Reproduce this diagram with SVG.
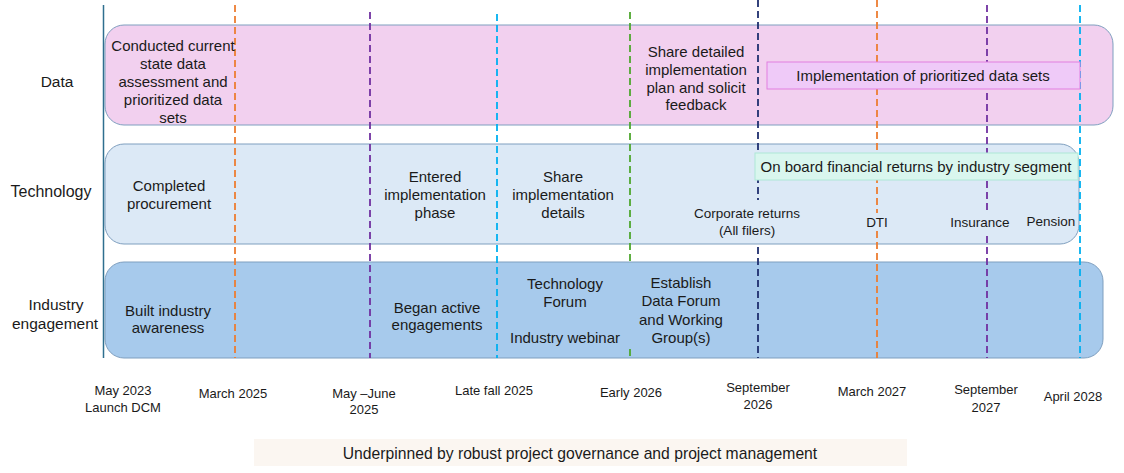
<svg xmlns="http://www.w3.org/2000/svg" width="1124" height="473" viewBox="0 0 1124 473">
<style>
text{font-family:"Liberation Sans",Arial,sans-serif;fill:#1a1a1a;text-anchor:middle;dominant-baseline:central}
.t{font-size:15px}
.r{font-size:15.5px}
.s{font-size:13px}
.x{font-size:13.5px}
.band{stroke:#7f9fbf;stroke-width:1}
.d{fill:none;stroke-width:1.8;stroke-dasharray:7 4}
</style>
<rect width="1124" height="473" fill="#ffffff"/>
<g id="bands">
<g id="data-band"><rect class="band" x="105" y="25" width="1008" height="100" rx="19" fill="#f2d0ef"/></g>
<g id="tech-band"><rect class="band" x="105" y="144" width="974" height="100" rx="19" fill="#dce9f6"/></g>
<g id="industry-band"><rect class="band" x="105" y="262" width="998" height="96" rx="19" fill="#a7caec"/></g>
</g>
<line x1="103.5" y1="5" x2="103.5" y2="358" stroke="#2f6f8f" stroke-width="1.5"/>
<g id="connectors">
<line class="d" x1="235" y1="5" x2="235" y2="358" stroke="#ed7d31"/>
<line class="d" x1="370" y1="12" x2="370" y2="358" stroke="#7030a0"/>
<line class="d" x1="497" y1="14" x2="497" y2="358" stroke="#00b0f0"/>
<line class="d" x1="630" y1="12" x2="630" y2="264" stroke="#4ea72e"/>
<line class="d" x1="630" y1="349" x2="630" y2="358" stroke="#4ea72e" stroke-dasharray="9 4"/>
<line class="d" x1="758" y1="0" x2="758" y2="200" stroke="#1f2f6f"/>
<line class="d" x1="758" y1="247" x2="758" y2="358" stroke="#1f2f6f"/>
<line class="d" x1="877" y1="0" x2="877" y2="358" stroke="#ed7d31"/>
<line class="d" x1="987" y1="5" x2="987" y2="358" stroke="#7030a0"/>
<line class="d" x1="1080" y1="5" x2="1080" y2="358" stroke="#00b0f0"/>
</g>
<g id="row-labels">
<text class="r" x="57" y="81">Data</text>
<text class="r" x="51" y="191" style="font-size:16px">Technology</text>
<text class="r" x="56" y="304">Industry</text>
<text class="r" x="55" y="323">engagement</text>
</g>
<g id="data-items">
<g id="n-conducted"><text class="t"><tspan x="173" y="45">Conducted current</tspan><tspan x="173" y="63">state data</tspan><tspan x="173" y="81">assessment and</tspan><tspan x="173" y="99">prioritized data</tspan><tspan x="173" y="117">sets</tspan></text></g>
<g id="n-share-plan"><text class="t"><tspan x="696" y="51">Share detailed</tspan><tspan x="696" y="69">implementation</tspan><tspan x="696" y="87">plan and solicit</tspan><tspan x="696" y="104">feedback</tspan></text></g>
<g id="n-impl-data"><rect x="767" y="62" width="313" height="27" fill="#efcaf8" stroke="#e17fe0" stroke-width="1"/><text class="t" x="923" y="75.5">Implementation of prioritized data sets</text></g>
</g>
<g id="tech-items">
<g id="n-procurement"><text class="t"><tspan x="169" y="185">Completed</tspan><tspan x="169" y="203">procurement</tspan></text></g>
<g id="n-entered"><text class="t"><tspan x="435" y="176">Entered</tspan><tspan x="435" y="194">implementation</tspan><tspan x="435" y="212">phase</tspan></text></g>
<g id="n-share-impl"><text class="t"><tspan x="563" y="176">Share</tspan><tspan x="563" y="194">implementation</tspan><tspan x="563" y="212">details</tspan></text></g>
<g id="n-onboard"><rect x="755" y="153" width="323" height="27" fill="#d9f6ee" stroke="#aee8d6" stroke-width="1"/><text class="t" x="916" y="166.5">On board financial returns by industry segment</text></g>
<g id="n-corporate"><text class="x"><tspan x="747" y="213">Corporate returns</tspan><tspan x="747" y="230">(All filers)</tspan></text></g>
<g id="n-dti"><rect x="865" y="213" width="24" height="18" fill="#dce9f6"/><text class="x" x="877" y="222">DTI</text></g>
<g id="n-insurance"><rect x="950" y="210" width="62" height="26" fill="#dce9f6"/><text class="x" x="980" y="222">Insurance</text></g>
<g id="n-pension"><text class="x" x="1051" y="221">Pension</text></g>
</g>
<g id="industry-items">
<g id="n-awareness"><text class="t"><tspan x="168" y="310">Built industry</tspan><tspan x="168" y="327">awareness</tspan></text></g>
<g id="n-began"><text class="t"><tspan x="437" y="307">Began active</tspan><tspan x="437" y="324">engagements</tspan></text></g>
<g id="n-techforum"><text class="t"><tspan x="565" y="283">Technology</tspan><tspan x="565" y="301">Forum</tspan></text></g>
<g id="n-webinar"><text class="t" x="565" y="337">Industry webinar</text></g>
<g id="n-dataforum"><text class="t"><tspan x="681" y="282">Establish</tspan><tspan x="681" y="300">Data Forum</tspan><tspan x="681" y="319">and Working</tspan><tspan x="681" y="337">Group(s)</tspan></text></g>
</g>
<g id="axis-labels">
<text class="s"><tspan x="123" y="390">May 2023</tspan><tspan x="123" y="407">Launch DCM</tspan></text>
<text class="s" x="233" y="393">March 2025</text>
<text class="s"><tspan x="364" y="393">May –June</tspan><tspan x="364" y="409">2025</tspan></text>
<text class="s" x="494" y="390">Late fall 2025</text>
<text class="s" x="631" y="392">Early 2026</text>
<text class="s"><tspan x="758" y="387">September</tspan><tspan x="758" y="404">2026</tspan></text>
<text class="s" x="872" y="391">March 2027</text>
<text class="s"><tspan x="986" y="389">September</tspan><tspan x="986" y="407">2027</tspan></text>
<text class="s" x="1073" y="396">April 2028</text>
</g>
<g id="n-governance"><rect x="254" y="439" width="653" height="27" fill="#fbf6f1"/><text class="t" x="580" y="453" style="font-size:15.7px">Underpinned by robust project governance and project management</text></g>
</svg>
